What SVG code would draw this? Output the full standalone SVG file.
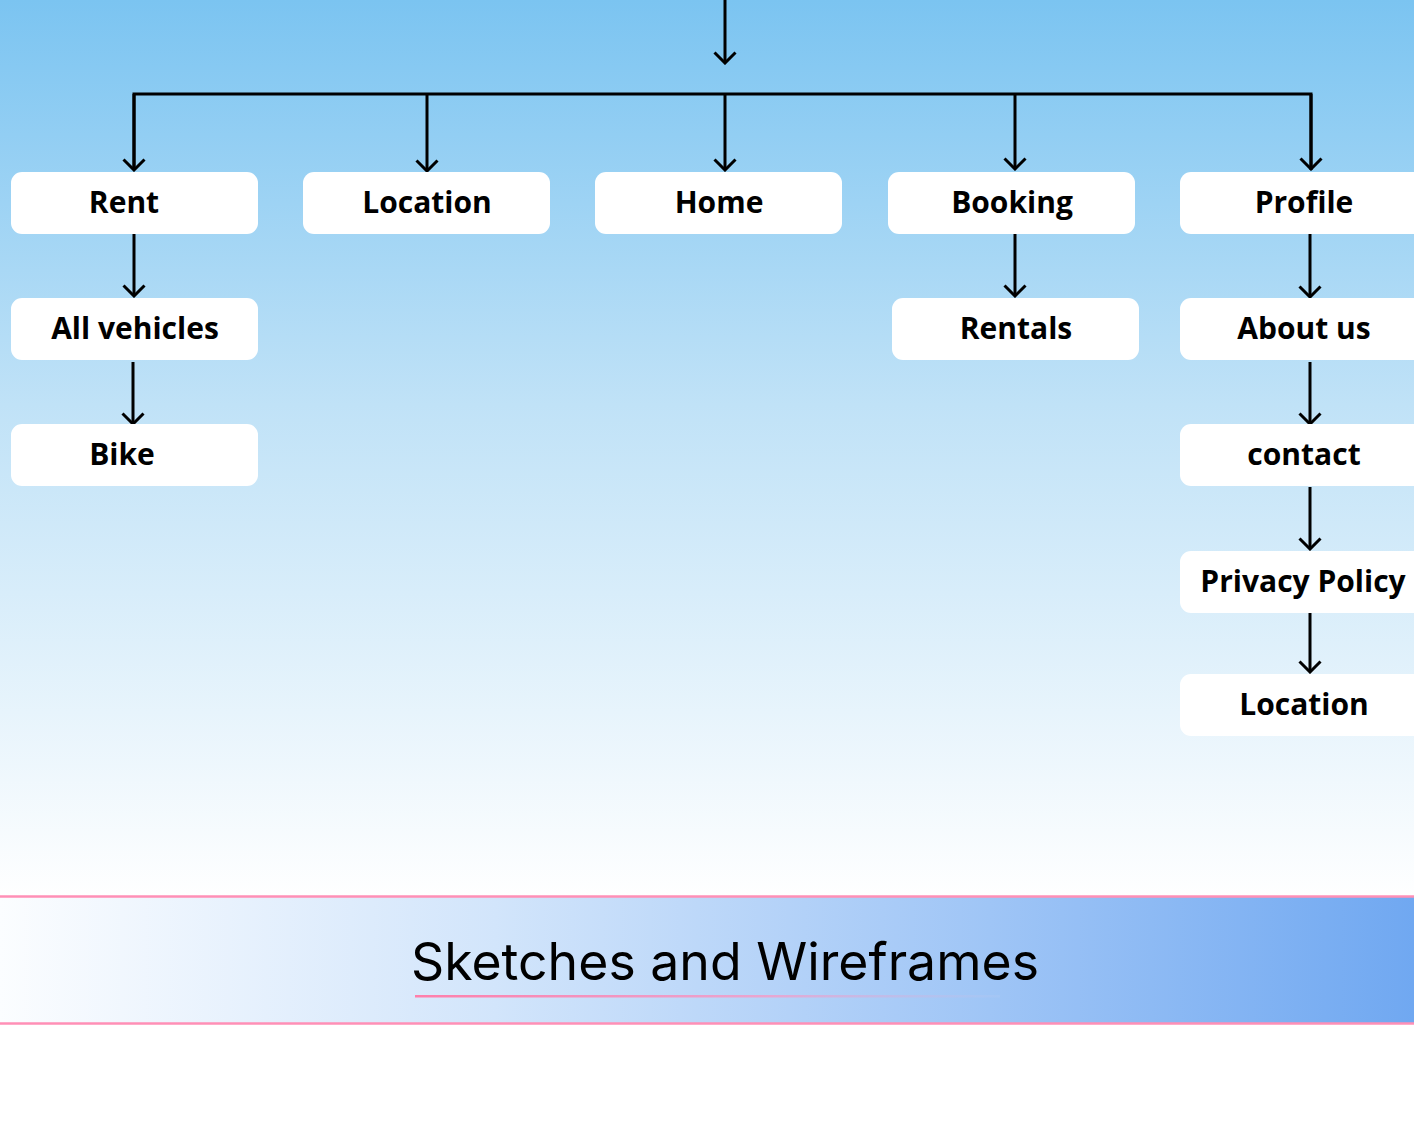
<svg xmlns="http://www.w3.org/2000/svg" width="1414" height="1140" viewBox="0 0 1414 1140">
<defs>
<linearGradient id="bg" x1="0" y1="0" x2="0" y2="1">
<stop offset="0" stop-color="#7bc4f1"/>
<stop offset="0.45" stop-color="#c0e2f7"/>
<stop offset="1" stop-color="#ffffff"/>
</linearGradient>
<linearGradient id="band" x1="0" y1="0" x2="1" y2="0">
<stop offset="0" stop-color="#fbfdff"/>
<stop offset="0.35" stop-color="#d2e5fb"/>
<stop offset="0.7" stop-color="#9fc5f6"/>
<stop offset="1" stop-color="#70a8f1"/>
</linearGradient>
<linearGradient id="ul" x1="0" y1="0" x2="1" y2="0">
<stop offset="0" stop-color="#ff7fab"/>
<stop offset="0.6" stop-color="#e9a6d0"/>
<stop offset="1" stop-color="#a9c8f4" stop-opacity="0.5"/>
</linearGradient>
<marker id="arr" viewBox="0 0 24 14" refX="12" refY="12" markerWidth="24" markerHeight="14" markerUnits="userSpaceOnUse" orient="0">
<path d="M1.5,1.5 L12,12 L22.5,1.5" fill="none" stroke="#000" stroke-width="3"/>
</marker>
<style>
.box{fill:#ffffff}
.lbl{font-family:"Open Sans","Noto Sans",sans-serif;font-weight:700;font-size:30px;fill:#000;text-anchor:middle}
.c{fill:none;stroke:#000;stroke-width:3}
.ca{fill:none;stroke:#000;stroke-width:3;marker-end:url(#arr)}
</style>
</defs>
<rect x="0" y="0" width="1414" height="900" fill="url(#bg)"/>
<rect x="0" y="900" width="1414" height="240" fill="#ffffff"/>
<g id="banner">
<rect x="0" y="896" width="1414" height="128" fill="url(#band)"/>
<line x1="0" y1="896.5" x2="1414" y2="896.5" stroke="#ff8fb6" stroke-width="2.5"/>
<line x1="0" y1="1023.5" x2="1414" y2="1023.5" stroke="#ff8fb6" stroke-width="2.5"/>
<rect x="415" y="995" width="585" height="2.5" fill="url(#ul)"/>
<text x="725" y="980" font-family="Inter,'Liberation Sans',sans-serif" font-size="52" fill="#000" text-anchor="middle" textLength="628" lengthAdjust="spacingAndGlyphs">Sketches and Wireframes</text>
</g>
<g id="connectors">
<path class="ca" d="M725,0 V63"/>
<path class="c" d="M134,170 V94 H1311 V170"/>
<path class="ca" d="M134,94 V170"/>
<path class="ca" d="M427,94 V171"/>
<path class="ca" d="M725,94 V170"/>
<path class="ca" d="M1015,94 V169"/>
<path class="ca" d="M1311,94 V169"/>
<path class="ca" d="M134,234 V296"/>
<path class="ca" d="M133,362 V424"/>
<path class="ca" d="M1015,234 V296"/>
<path class="ca" d="M1310,234 V297"/>
<path class="ca" d="M1310,362 V424"/>
<path class="ca" d="M1310,487 V549"/>
<path class="ca" d="M1310,613 V672"/>
</g>
<g id="n-rent"><rect class="box" x="11" y="172" width="247" height="62" rx="11"/><text class="lbl" x="124" y="213">Rent</text></g>
<g id="n-location"><rect class="box" x="303" y="172" width="247" height="62" rx="11"/><text class="lbl" x="427" y="213">Location</text></g>
<g id="n-home"><rect class="box" x="595" y="172" width="247" height="62" rx="11"/><text class="lbl" x="719" y="213">Home</text></g>
<g id="n-booking"><rect class="box" x="888" y="172" width="247" height="62" rx="11"/><text class="lbl" x="1012" y="213">Booking</text></g>
<g id="n-profile"><rect class="box" x="1180" y="172" width="260" height="62" rx="11"/><text class="lbl" x="1304" y="213">Profile</text></g>
<g id="n-allvehicles"><rect class="box" x="11" y="298" width="247" height="62" rx="11"/><text class="lbl" x="135" y="339">All vehicles</text></g>
<g id="n-rentals"><rect class="box" x="892" y="298" width="247" height="62" rx="11"/><text class="lbl" x="1016" y="339">Rentals</text></g>
<g id="n-aboutus"><rect class="box" x="1180" y="298" width="260" height="62" rx="11"/><text class="lbl" x="1304" y="339">About us</text></g>
<g id="n-bike"><rect class="box" x="11" y="424" width="247" height="62" rx="11"/><text class="lbl" x="122" y="465">Bike</text></g>
<g id="n-contact"><rect class="box" x="1180" y="424" width="260" height="62" rx="11"/><text class="lbl" x="1304" y="465">contact</text></g>
<g id="n-privacy"><rect class="box" x="1180" y="551" width="260" height="62" rx="11"/><text class="lbl" x="1303" y="592">Privacy Policy</text></g>
<g id="n-location2"><rect class="box" x="1180" y="674" width="260" height="62" rx="11"/><text class="lbl" x="1304" y="715">Location</text></g>
</svg>
